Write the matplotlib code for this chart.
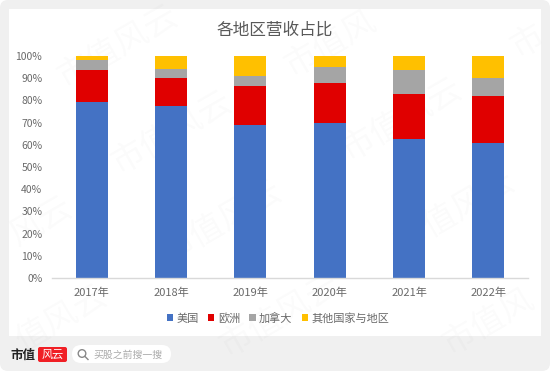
import matplotlib
matplotlib.use('Agg')
import matplotlib.pyplot as plt
from matplotlib.patches import FancyBboxPatch, Rectangle, Circle
from matplotlib.ticker import PercentFormatter

plt.rcParams['font.family'] = ['Noto Sans CJK SC', 'DejaVu Sans']

years = ['2017年', '2018年', '2019年', '2020年', '2021年', '2022年']
usa = [79.3, 77.5, 69.0, 69.7, 62.5, 61.0]
europe = [14.2, 12.5, 17.6, 18.3, 20.5, 21.0]
canada = [4.7, 4.2, 4.6, 7.0, 10.5, 8.0]
other = [1.8, 5.8, 8.8, 5.0, 6.5, 10.0]
series_names = ['美国', '欧洲', '加拿大', '其他国家与地区']
colors = ['#4472c4', '#e00000', '#a5a5a5', '#ffc000']
watermarks = [('市值风云', 118, 47), ('市值风云', 172, 133), ('市值风云', 222, 222),
              ('市值风', 330, 44), ('市值风云', 402, 120), ('市值风云', 455, 212),
              ('市值风云', 280, 316), ('风云', 41, 222), ('值风云', 62, 318),
              ('市值风', 488, 322), ('市', 527, 42)]

W, H = 550, 372
fig = plt.figure(figsize=(W / 100, H / 100), dpi=100, facecolor='white')

# frame, footer and watermark sit under the chart, in pixel coords
bg = fig.add_axes([0, 0, 1, 1], zorder=0)
bg.set_xlim(0, W)
bg.set_ylim(H, 0)
bg.axis('off')
bg.add_patch(FancyBboxPatch((0, 0), 550, 371, boxstyle='round,pad=0,rounding_size=8',
                            fc='#f0f0f0', ec='none'))
bg.add_patch(Rectangle((9, 9), 532, 327, fc='white', ec='none'))
for txt, x, y in watermarks:
    bg.text(x, y, txt, fontsize=24, color='#000000', alpha=0.02, rotation=30,
            ha='center', va='center')

ax = fig.add_axes([52 / W, 1 - 278 / H, 476 / W, 222 / H], zorder=1)
ax.patch.set_alpha(0)
bottom = [0] * len(years)
for name, vals, c in zip(series_names, [usa, europe, canada, other], colors):
    ax.bar(years, vals, 0.4, bottom=bottom, color=c, label=name)
    bottom = [b + v for b, v in zip(bottom, vals)]

ax.set_xlim(-0.5, 5.5)
ax.set_ylim(0, 100)
ax.set_yticks(range(0, 101, 10))
ax.yaxis.set_major_formatter(PercentFormatter(100, decimals=0))
ax.tick_params(axis='both', length=0, labelcolor='#6a6a6a')
ax.tick_params(axis='x', pad=7, labelsize=8)
ax.tick_params(axis='y', pad=7, labelsize=7.5)
for s in ['top', 'right', 'left']:
    ax.spines[s].set_visible(False)
ax.spines['bottom'].set_color('#d9d9d9')
ax.spines['bottom'].set_linewidth(1)

ax.legend(loc='center', bbox_to_anchor=(0.475, -0.18), ncol=4, frameon=False,
          fontsize=8, labelcolor='#6a6a6a', handlelength=0.55, handleheight=0.55,
          handletextpad=0.3, columnspacing=0.85, borderpad=0)

over = fig.add_axes([0, 0, 1, 1], zorder=2)
over.set_xlim(0, W)
over.set_ylim(H, 0)
over.axis('off')
over.text(275, 30, '各地区营收占比', fontsize=12, color='#595959', ha='center', va='center')

# footer logo and search box
over.text(23, 355, '市值', fontsize=9, fontweight='bold', color='#222222', ha='center', va='center')
over.add_patch(FancyBboxPatch((38, 347), 29, 15, boxstyle='round,pad=0,rounding_size=2',
                              fc='#f01f25', ec='none'))
over.text(52.5, 354.5, '风云', fontsize=8, color='white', ha='center', va='center')
over.add_patch(FancyBboxPatch((72, 345), 99, 18, boxstyle='round,pad=0,rounding_size=9',
                              fc='white', ec='none'))
over.add_patch(Circle((82, 353.5), 3.8, fc='none', ec='#888888', lw=1))
over.plot([85, 88], [356.5, 359.5], color='#888888', lw=1)
over.text(93, 354.5, '买股之前搜一搜', fontsize=7.1, color='#aaaaaa', ha='left', va='center')

fig.savefig('out.png', dpi=100)
